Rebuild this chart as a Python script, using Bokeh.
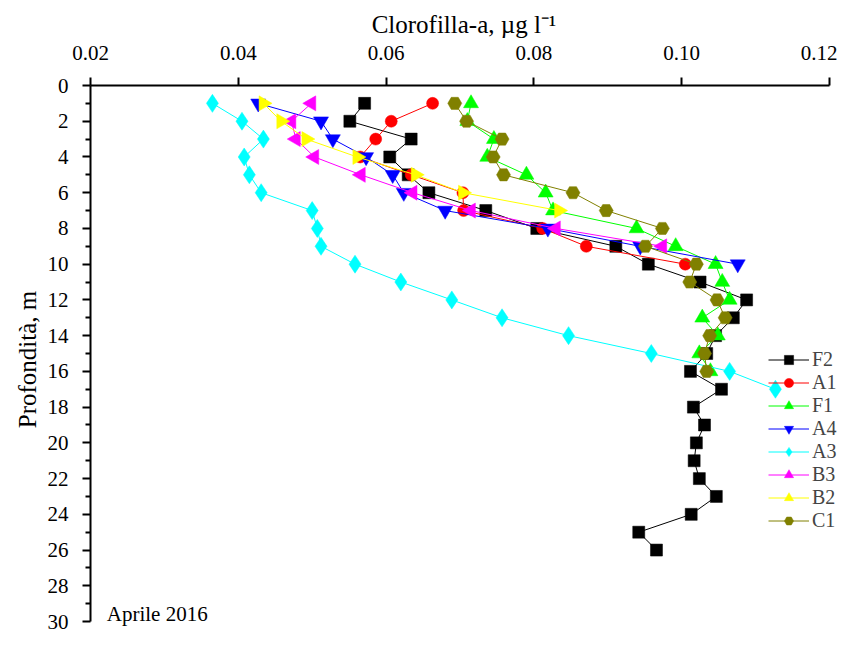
import math
from bokeh.plotting import figure
from bokeh.models import Range1d, FixedTicker, PrintfTickFormatter, Legend, LegendItem, Label, ColumnDataSource
from bokeh.embed import file_html
from bokeh.resources import INLINE

# ---- data (chlorophyll-a, ug/l, by depth in m) ----
depth_F2 = list(range(1, 27))
chl_F2 = [0.0571, 0.0551, 0.0634, 0.0605, 0.0630, 0.0658, 0.0735, 0.0804, 0.0911, 0.0955,
          0.1025, 0.1088, 0.1070, 0.1046, 0.1034, 0.1012, 0.1054, 0.1016, 0.1031, 0.1020,
          0.1017, 0.1024, 0.1047, 0.1013, 0.0942, 0.0966]
depth_A1 = list(range(1, 11))
chl_A1 = [0.0663, 0.0607, 0.0586, 0.0565, 0.0634, 0.0704, 0.0705, 0.0812, 0.0871, 0.1005]
depth_F1 = list(range(1, 17))
chl_F1 = [0.0715, 0.0710, 0.0746, 0.0737, 0.0790, 0.0816, 0.0826, 0.0939, 0.0992, 0.1046,
          0.1055, 0.1065, 0.1028, 0.1049, 0.1024, 0.1039]
depth_A4 = list(range(1, 11))
chl_A4 = [0.0427, 0.0512, 0.0528, 0.0573, 0.0609, 0.0624, 0.0680, 0.0819, 0.0944, 0.1076]
depth_A3 = list(range(1, 18))
chl_A3 = [0.0365, 0.0405, 0.0434, 0.0408, 0.0415, 0.0431, 0.0500, 0.0507, 0.0512, 0.0558,
          0.0620, 0.0689, 0.0757, 0.0847, 0.0959, 0.1065, 0.1127]
depth_B3 = list(range(1, 10))
chl_B3 = [0.0499, 0.0472, 0.0478, 0.0503, 0.0566, 0.0636, 0.0715, 0.0830, 0.0974]
depth_B2 = list(range(1, 8))
chl_B2 = [0.0434, 0.0458, 0.0492, 0.0561, 0.0640, 0.0704, 0.0834]
depth_C1 = list(range(1, 17))
chl_C1 = [0.0693, 0.0709, 0.0757, 0.0745, 0.0759, 0.0853, 0.0898, 0.0974, 0.0951, 0.1020,
          0.1011, 0.1048, 0.1059, 0.1038, 0.1031, 0.1034]

x_ticks = [0.02, 0.04, 0.06, 0.08, 0.10, 0.12]
y_ticks = list(range(0, 31, 2))
y_minor = list(range(1, 30, 2))

FONT = "Liberation Serif"

p = figure(width=837, height=633, output_backend="svg", toolbar_location=None,
           x_axis_location="above",
           x_range=Range1d(0.02, 0.1211), y_range=Range1d(30.67, 0),
           min_border_left=90, min_border_right=0, min_border_top=85, min_border_bottom=0)
p.outline_line_color = None
p.xgrid.visible = False
p.ygrid.visible = False
p.background_fill_color = "white"

xa = p.xaxis[0]
xa.ticker = FixedTicker(ticks=x_ticks)
xa.formatter = PrintfTickFormatter(format="%.2f")
xa.bounds = (0.02, 0.12)
xa.axis_label = "Clorofilla-a, µg l⁻¹"
ya = p.yaxis[0]
ya.ticker = FixedTicker(ticks=y_ticks, minor_ticks=y_minor)
ya.bounds = (0, 30)
ya.axis_label = "Profondità, m"

for ax in (xa, ya):
    ax.axis_line_width = 2
    ax.major_tick_line_width = 2
    ax.minor_tick_line_width = 2
    ax.major_tick_in = 0
    ax.major_tick_out = 8
    ax.minor_tick_in = 0
    ax.major_label_text_font = FONT
    ax.major_label_text_font_size = "21px"
    ax.major_label_text_color = "black"
    ax.axis_label_text_font = FONT
    ax.axis_label_text_font_size = "25px"
    ax.axis_label_text_font_style = "normal"
    ax.axis_label_text_color = "black"
xa.minor_tick_out = 0
ya.minor_tick_out = 5
xa.major_label_standoff = 18
ya.major_label_standoff = 14
xa.axis_label_standoff = 5
ya.axis_label_standoff = 4

series = [
    ("F2", chl_F2, depth_F2, "black", "square", 12, 0),
    ("A1", chl_A1, depth_A1, "red", "circle", 12, 0),
    ("F1", chl_F1, depth_F1, "#00ff00", "triangle", 15, 0),
    ("A4", chl_A4, depth_A4, "blue", "inverted_triangle", 15, 0),
    ("A3", chl_A3, depth_A3, "cyan", "diamond", 18, 0),
    ("B3", chl_B3, depth_B3, "magenta", "triangle", 15, math.pi / 2),
    ("B2", chl_B2, depth_B2, "yellow", "triangle", 15, -math.pi / 2),
    ("C1", chl_C1, depth_C1, "olive", "hex", 14, 0),
]

items = []
for name, xs, ys, col, mk, sz, ang in series:
    src = ColumnDataSource(dict(x=xs, y=ys, a=[ang] * len(xs)))
    ln = p.line("x", "y", source=src, line_color=col, line_width=1)
    sc = p.scatter("x", "y", source=src, marker=mk, size=sz, angle="a",
                   fill_color=col, line_color=col, line_width=0.5)
    items.append(LegendItem(label=name, renderers=[ln, sc], index=0))

legend = Legend(items=items, location=(678, 101), orientation="vertical",
                padding=0, margin=0, spacing=0, glyph_height=23, glyph_width=41,
                label_height=23, label_standoff=3,
                label_text_font=FONT, label_text_font_size="20px",
                border_line_alpha=0, background_fill_alpha=0)
p.add_layout(legend)

p.add_layout(Label(x=0.0222, y=29.6, text="Aprile 2016", text_font=FONT,
                   text_font_size="21px", text_baseline="middle", text_align="left",
                   text_color="black"))

open("out.html", "w").write(file_html(p, INLINE))
